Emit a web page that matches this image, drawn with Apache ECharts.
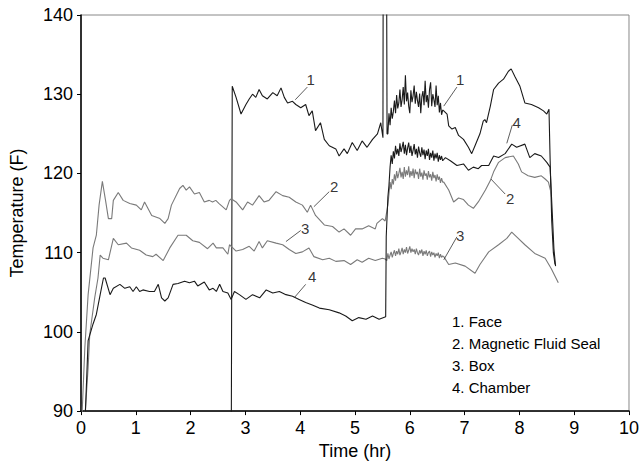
<!DOCTYPE html>
<html>
<head>
<meta charset="utf-8">
<script src="https://cdn.jsdelivr.net/npm/echarts@6/dist/echarts.min.js"></script>
<style>html,body{margin:0;padding:0;background:#fff;}#c{width:642px;height:465px;}</style>
</head>
<body>
<div id="c"></div>
<script>
// ---- data ----
const seriesNames = ['Face', 'Magnetic Fluid Seal', 'Box', 'Chamber'];
const xTicks = [0, 1, 2, 3, 4, 5, 6, 7, 8, 9, 10];
const yTicks = [90, 100, 110, 120, 130, 140];

const face = [
  [2.74, 80], [2.76, 131.0], [2.83, 129.6], [2.92, 127.5], [3.01, 128.7], [3.07, 129.4], [3.13, 130.0], [3.19, 129.6],
  [3.25, 130.6], [3.31, 129.8], [3.40, 129.4], [3.50, 130.2], [3.58, 129.8], [3.65, 130.8], [3.71, 129.6], [3.77, 128.9],
  [3.86, 129.1], [3.92, 128.7], [4.01, 128.3], [4.10, 128.7], [4.16, 127.3], [4.22, 127.9], [4.28, 125.4], [4.37, 126.4],
  [4.44, 124.3], [4.53, 123.5], [4.65, 123.1], [4.71, 122.2], [4.80, 123.1], [4.86, 122.5], [4.95, 123.9], [5.04, 122.9],
  [5.13, 124.1], [5.22, 123.3], [5.32, 124.3], [5.41, 125.0], [5.47, 126.4], [5.51, 124.5], [5.515, 150], [5.575, 150],
  [5.585, 125.0],
  [5.60, 125.0], [5.62, 127.6], [5.64, 126.1], [5.66, 128.3], [5.68, 126.9], [5.70, 127.8], [5.72, 129.2], [5.74, 127.6],
  [5.76, 129.9], [5.78, 128.2], [5.80, 128.9], [5.82, 130.6], [5.84, 128.4], [5.86, 129.3], [5.88, 130.9], [5.90, 128.7],
  [5.92, 132.4], [5.94, 129.1], [5.96, 130.2], [5.98, 128.5], [6.00, 127.6], [6.02, 130.5], [6.04, 129.0], [6.06, 129.8],
  [6.08, 131.1], [6.10, 128.8], [6.12, 130.3], [6.14, 129.2], [6.16, 128.4], [6.18, 130.1], [6.20, 127.6], [6.22, 129.7],
  [6.24, 130.4], [6.26, 128.6], [6.28, 131.7], [6.30, 129.0], [6.32, 129.9], [6.34, 128.3], [6.36, 130.6], [6.38, 131.5],
  [6.40, 128.5], [6.42, 130.0], [6.44, 129.3], [6.46, 128.4], [6.48, 131.1], [6.50, 128.6], [6.52, 129.8], [6.54, 127.7],
  [6.56, 128.9], [6.58, 127.4], [6.60, 128.0],
  [6.62, 127.9], [6.68, 127.5], [6.71, 126.0], [6.77, 125.6], [6.83, 125.8], [6.89, 124.8], [6.98, 124.3], [7.07, 123.3],
  [7.13, 122.5], [7.19, 123.5], [7.28, 125.0], [7.34, 126.6], [7.37, 126.8], [7.40, 126.4], [7.47, 128.5], [7.53, 130.6],
  [7.62, 131.4], [7.71, 131.9], [7.80, 132.9], [7.85, 133.2], [7.92, 132.2], [8.01, 131.0], [8.10, 128.9], [8.22, 128.7],
  [8.35, 128.3], [8.44, 127.9], [8.50, 127.5], [8.54, 128.1], [8.56, 122.0], [8.59, 114.0], [8.62, 110.0], [8.65, 108.5]
];

const seal = [
  [0.01, 88], [0.07, 98], [0.13, 104.7], [0.22, 110.6], [0.28, 112.2], [0.33, 116.0], [0.39, 119.0], [0.45, 116.5],
  [0.50, 114.3], [0.56, 114.3], [0.59, 116.6], [0.68, 117.6], [0.77, 116.6], [0.89, 116.2], [1.01, 116.0], [1.10, 115.4],
  [1.16, 116.4], [1.29, 114.7], [1.44, 114.3], [1.53, 113.7], [1.59, 114.3], [1.65, 116.0], [1.80, 118.1], [1.86, 118.5],
  [1.92, 117.9], [1.98, 118.3], [2.07, 117.4], [2.16, 117.6], [2.25, 116.4], [2.34, 116.6], [2.40, 116.4], [2.46, 116.6],
  [2.52, 116.2], [2.65, 115.4], [2.71, 116.6], [2.74, 116.8], [2.83, 116.4], [2.95, 115.4], [3.04, 116.4], [3.13, 116.0],
  [3.25, 117.2], [3.34, 116.4], [3.43, 116.6], [3.56, 117.7], [3.68, 117.2], [3.80, 117.0], [3.92, 116.4], [4.04, 116.0],
  [4.13, 115.1], [4.19, 116.0], [4.28, 114.7], [4.44, 113.5], [4.59, 113.3], [4.71, 112.6], [4.80, 113.0], [4.92, 112.2],
  [5.01, 113.0], [5.13, 113.0], [5.25, 113.4], [5.37, 113.0], [5.40, 113.7], [5.50, 114.3], [5.55, 114.0],
  [5.60, 116.0], [5.62, 117.4], [5.64, 118.9], [5.66, 118.0], [5.68, 119.3], [5.70, 118.6], [5.72, 119.9], [5.74, 119.1],
  [5.76, 120.3], [5.78, 119.4], [5.80, 120.0], [5.82, 120.7], [5.84, 119.5], [5.86, 120.2], [5.88, 119.3], [5.90, 120.8],
  [5.92, 119.6], [5.94, 120.4], [5.96, 119.8], [5.98, 120.9], [6.00, 119.5], [6.02, 120.3], [6.04, 119.7], [6.06, 120.6],
  [6.08, 119.4], [6.10, 120.5], [6.12, 119.9], [6.14, 120.2], [6.16, 119.3], [6.18, 120.6], [6.20, 119.6], [6.22, 120.1],
  [6.24, 119.2], [6.26, 120.4], [6.28, 119.7], [6.30, 120.0], [6.32, 119.2], [6.34, 120.3], [6.36, 119.5], [6.38, 119.9],
  [6.40, 119.1], [6.42, 120.2], [6.44, 119.4], [6.46, 119.8], [6.48, 119.0], [6.50, 119.9], [6.52, 119.2], [6.54, 119.6],
  [6.56, 118.8], [6.58, 119.4], [6.60, 118.9],
  [6.62, 118.9], [6.71, 117.9], [6.80, 116.4], [6.89, 116.9], [6.98, 116.7], [7.07, 116.0], [7.16, 115.6], [7.25, 116.4],
  [7.38, 117.9], [7.47, 119.1], [7.53, 120.2], [7.62, 121.4], [7.74, 122.0], [7.89, 122.2], [7.98, 121.2], [8.04, 120.2],
  [8.16, 119.7], [8.28, 119.5], [8.40, 119.7], [8.47, 119.3], [8.53, 118.9], [8.58, 117.5]
];

const box = [
  [0.06, 88], [0.13, 95.5], [0.16, 99.7], [0.25, 104.3], [0.31, 106.8], [0.35, 109.7], [0.40, 109.3], [0.50, 109.1],
  [0.59, 111.8], [0.68, 111.0], [0.83, 111.2], [0.92, 110.6], [1.07, 110.3], [1.19, 109.7], [1.31, 109.5], [1.37, 109.8],
  [1.50, 109.0], [1.62, 110.6], [1.77, 112.2], [1.92, 112.2], [2.04, 111.5], [2.16, 111.3], [2.31, 110.5], [2.41, 111.2],
  [2.47, 110.6], [2.59, 110.6], [2.68, 109.8], [2.71, 111.0], [2.77, 110.6], [2.83, 110.2], [2.95, 110.4], [3.07, 110.8],
  [3.16, 110.2], [3.25, 111.4], [3.31, 110.6], [3.40, 111.5], [3.56, 111.2], [3.68, 111.0], [3.80, 110.4], [3.92, 109.9],
  [4.04, 110.1], [4.16, 110.6], [4.25, 109.5], [4.41, 109.1], [4.53, 109.3], [4.65, 108.9], [4.80, 109.0], [4.92, 108.5],
  [5.04, 109.1], [5.13, 108.8], [5.25, 109.3], [5.37, 109.0], [5.50, 109.3], [5.55, 109.2],
  [5.58, 109.0], [5.60, 109.9], [5.62, 109.2], [5.64, 109.7], [5.66, 110.1], [5.68, 109.4], [5.70, 109.9], [5.72, 110.3],
  [5.74, 109.6], [5.76, 110.2], [5.78, 109.8], [5.80, 110.5], [5.82, 109.7], [5.84, 110.1], [5.86, 110.6], [5.88, 109.8],
  [5.90, 110.4], [5.92, 110.0], [5.94, 110.7], [5.96, 109.9], [5.98, 110.3], [6.00, 110.8], [6.02, 110.0], [6.04, 110.5],
  [6.06, 110.1], [6.08, 110.4], [6.10, 109.8], [6.12, 110.5], [6.14, 110.0], [6.16, 109.7], [6.18, 110.3], [6.20, 109.9],
  [6.22, 110.4], [6.24, 109.6], [6.26, 110.2], [6.28, 109.8], [6.30, 110.3], [6.32, 109.6], [6.34, 110.0], [6.36, 110.2],
  [6.38, 109.5], [6.40, 110.1], [6.42, 109.7], [6.44, 110.0], [6.46, 109.4], [6.48, 109.9], [6.50, 109.6], [6.52, 110.0],
  [6.54, 109.3], [6.56, 109.8], [6.58, 109.4], [6.60, 109.6],
  [6.62, 109.5], [6.71, 108.5], [6.83, 108.7], [7.01, 108.3], [7.19, 107.4], [7.28, 108.5], [7.44, 110.1], [7.62, 111.0],
  [7.77, 111.8], [7.86, 112.6], [7.95, 112.0], [8.10, 111.0], [8.28, 109.9], [8.47, 109.3], [8.58, 108.0], [8.71, 106.2]
];

const chamber = [
  [0.07, 88], [0.13, 98.9], [0.22, 101.0], [0.28, 102.2], [0.35, 104.7], [0.41, 106.8], [0.44, 106.8], [0.53, 104.7],
  [0.59, 105.5], [0.71, 106.0], [0.80, 105.5], [0.89, 105.7], [0.95, 105.1], [1.01, 105.7], [1.07, 105.1], [1.13, 105.3],
  [1.25, 105.1], [1.34, 105.1], [1.41, 106.0], [1.47, 104.3], [1.53, 103.9], [1.59, 104.3], [1.68, 106.0], [1.77, 106.1],
  [1.89, 106.4], [1.98, 106.2], [2.07, 106.4], [2.13, 105.8], [2.25, 106.3], [2.34, 105.3], [2.41, 105.5], [2.47, 105.1],
  [2.53, 106.0], [2.59, 105.1], [2.68, 104.9], [2.74, 104.1], [2.80, 105.1], [2.89, 104.7], [3.01, 104.1], [3.13, 104.7],
  [3.26, 104.3], [3.38, 105.3], [3.50, 104.9], [3.62, 105.1], [3.74, 104.7], [3.86, 104.5], [3.98, 104.1], [4.10, 103.7],
  [4.22, 103.4], [4.35, 103.0], [4.53, 102.8], [4.71, 102.4], [4.83, 102.0], [4.95, 101.4], [5.07, 101.8], [5.20, 101.6],
  [5.32, 102.0], [5.44, 101.6], [5.56, 101.9], [5.57, 112.0], [5.60, 117.0],
  [5.62, 118.5], [5.64, 120.8], [5.66, 122.3], [5.68, 121.2], [5.70, 122.8], [5.72, 121.9], [5.74, 123.5], [5.76, 122.4],
  [5.78, 123.1], [5.80, 122.2], [5.82, 123.8], [5.84, 122.7], [5.86, 123.3], [5.88, 124.0], [5.90, 122.5], [5.92, 123.6],
  [5.94, 122.3], [5.96, 123.2], [5.98, 123.9], [6.00, 122.6], [6.02, 123.5], [6.04, 122.2], [6.06, 122.9], [6.08, 123.7],
  [6.10, 122.4], [6.12, 123.1], [6.14, 122.0], [6.16, 123.4], [6.18, 122.6], [6.20, 122.1], [6.22, 123.3], [6.24, 122.3],
  [6.26, 123.0], [6.28, 121.8], [6.30, 122.9], [6.32, 122.2], [6.34, 123.1], [6.36, 121.7], [6.38, 122.6], [6.40, 122.0],
  [6.42, 122.9], [6.44, 121.6], [6.46, 122.5], [6.48, 121.9], [6.50, 122.6], [6.52, 121.5], [6.54, 122.3], [6.56, 121.7],
  [6.58, 122.2], [6.60, 121.6],
  [6.65, 122.0], [6.74, 121.6], [6.86, 121.0], [6.98, 121.2], [7.07, 120.4], [7.16, 120.8], [7.25, 120.6], [7.31, 121.0],
  [7.44, 121.0], [7.53, 122.2], [7.62, 122.0], [7.74, 122.5], [7.86, 123.7], [7.95, 123.3], [8.10, 123.7], [8.19, 122.0],
  [8.28, 122.5], [8.40, 122.2], [8.50, 121.4], [8.56, 120.8], [8.60, 115.0], [8.63, 110.5], [8.66, 108.3]
];

// curve number labels: [t, temp, text]
const labelPoints = [
  [4.19, 131.9, '1'], [6.92, 131.9, '1'], [7.95, 126.4, '4'], [7.83, 116.8, '2'],
  [4.62, 118.3, '2'], [4.09, 113.1, '3'], [4.22, 107.0, '4'], [6.92, 112.2, '3']
];
// leader lines: [t1, v1, t2, v2]
const leaders = [
  [3.91, 129.3, 4.13, 130.9], [6.62, 128.5, 6.86, 130.9], [7.77, 123.8, 7.87, 126.1], [7.48, 119.3, 7.74, 117.4],
  [4.25, 115.8, 4.53, 117.7], [3.74, 111.4, 4.01, 112.8], [3.89, 104.3, 4.10, 106.0], [6.62, 109.1, 6.86, 112.0]
];
const legendLines = ['1. Face', '2. Magnetic Fluid Seal', '3. Box', '4. Chamber'];

// ---- chart ----
const FONT = 'Liberation Sans, Arial, sans-serif';
const chart = echarts.init(document.getElementById('c'), null, {renderer: 'svg'});
const lineColors = ['#1a1a1a', '#7a7a7a', '#7a7a7a', '#1a1a1a'];
const dataSets = [face, seal, box, chamber];

const series = dataSets.map((d, i) => ({
  name: seriesNames[i], type: 'line', data: d, showSymbol: false, symbol: 'none',
  lineStyle: {color: lineColors[i], width: 1.1}, clip: true, animation: false, z: 3
}));
leaders.forEach(l => series.push({
  type: 'line', data: [[l[0], l[1]], [l[2], l[3]]], symbol: 'none',
  lineStyle: {color: '#333', width: 0.8}, animation: false, silent: true, z: 4
}));
series.push({
  type: 'scatter', symbolSize: 0, animation: false, silent: true,
  data: labelPoints.map(p => ({value: [p[0], p[1]], name: p[2]})),
  label: {show: true, position: 'inside', formatter: p => p.name, fontFamily: FONT, fontSize: 15, color: '#000'}
});

chart.setOption({
  animation: false,
  backgroundColor: '#fff',
  grid: {left: 81, top: 15, right: 11, bottom: 51, show: true, borderColor: '#888', borderWidth: 1},
  xAxis: {
    type: 'value', min: xTicks[0], max: xTicks[xTicks.length - 1], interval: 1,
    name: 'Time (hr)', nameLocation: 'middle', nameGap: 30,
    nameTextStyle: {fontFamily: FONT, fontSize: 18, color: '#000'},
    axisLine: {lineStyle: {color: '#000', width: 1.5}},
    axisTick: {length: 4, lineStyle: {color: '#000'}},
    axisLabel: {fontFamily: FONT, fontSize: 18, color: '#000', margin: 8},
    splitLine: {show: false}
  },
  yAxis: {
    type: 'value', min: yTicks[0], max: yTicks[yTicks.length - 1], interval: 10,
    name: 'Temperature (F)', nameLocation: 'middle', nameGap: 55,
    nameTextStyle: {fontFamily: FONT, fontSize: 18, color: '#000'},
    axisLine: {show: true, lineStyle: {color: '#000', width: 1.5}},
    axisTick: {show: true, length: 4, lineStyle: {color: '#000'}},
    axisLabel: {fontFamily: FONT, fontSize: 18, color: '#000', margin: 8},
    splitLine: {show: false}
  },
  graphic: [{
    type: 'text', left: 452, top: 310, silent: true,
    style: {text: legendLines.join('\n'), font: '15px ' + FONT, lineHeight: 22, fill: '#000'}
  }],
  series: series
});
</script>
</body>
</html>
